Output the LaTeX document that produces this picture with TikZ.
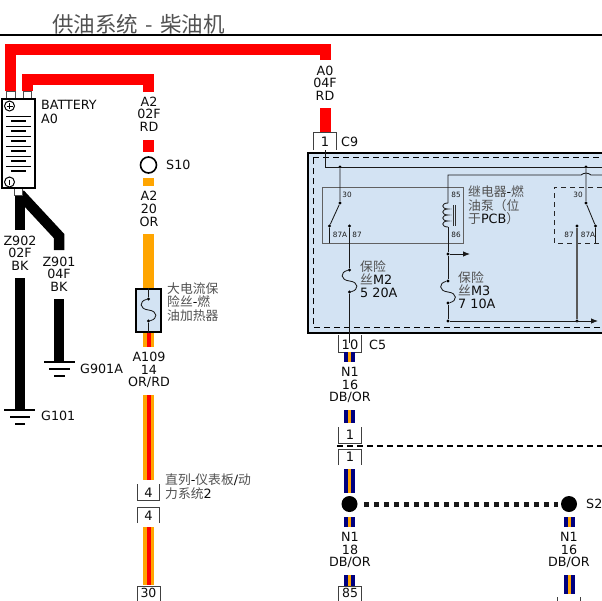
\documentclass[tikz,border=0pt]{standalone}
\usepackage{fontspec}
\usetikzlibrary{arrows.meta}
\setmainfont{DejaVu Sans}
\newfontfamily\cjkraw{Noto Sans CJK SC}
\newcommand{\cj}[1]{{\cjkraw\color{black!68}#1}}
\definecolor{wred}{HTML}{FF0000}
\definecolor{wor}{HTML}{FFA500}
\definecolor{wnavy}{HTML}{00007F}
\definecolor{modfill}{HTML}{D3E3F3}
\tikzset{
  redwire/.style={draw=wred,line width=11pt,line cap=butt,miter limit=10},
  orwire/.style={draw=wor,line width=11pt,line cap=butt},
  bkwire/.style={draw=black,line width=10.5pt,line cap=butt,miter limit=10},
  orrdwire/.style={draw=wor,double=wred,line width=3.5pt,double distance=4pt,line cap=butt},
  dbwire/.style={draw=wnavy,double=wor,line width=4pt,double distance=3pt,line cap=butt},
  lab/.style={font=\fontsize{12.7}{12.7}\selectfont,align=center,inner sep=0pt,text=black!95},
  side/.style={font=\fontsize{12.7}{13.4}\selectfont,align=left,anchor=west,inner sep=0pt,text=black!95},
  sidecj/.style={side,font=\fontsize{12.8}{13.3}\selectfont},
  pinnum/.style={font=\fontsize{13}{13}\selectfont,inner sep=0pt,text=black!95},
  tiny/.style={font=\fontsize{7.3}{8}\selectfont,inner sep=0pt,text=black!90},
  pin/.style={draw=black!75,line width=0.9pt},
  thin wire/.style={draw=black!90,line width=0.85pt},
  gnd/.style={draw=black,line width=1.5pt},
  jdot/.style={circle,fill=black,inner sep=0pt,minimum size=3.4pt},
  bigdot/.style={circle,fill=black,inner sep=0pt,minimum size=16pt},
  stub/.style={draw=black!70,fill=white,line width=0.8pt},
}
\begin{document}
\begin{tikzpicture}[x=1pt,y=-1pt]
\useasboundingbox (0,0) rectangle (602,600);
\clip (0,0) rectangle (602,600);
\fill[white] (0,0) rectangle (602,600);
% title
\node[inner sep=0pt,anchor=west,font=\fontsize{21.5}{24}\selectfont] (title) at (52,24) {\cj{供油系统\hspace{0.12em} - \hspace{0.12em}柴油机}};
\coordinate (ruleL) at (0,35); \coordinate (ruleR) at (602,35);
\draw[black,line width=1.5pt] (ruleL) -- (ruleR);

% ground wires (under the battery stub)
\coordinate (gs) at (20,194);
\node[lab] (z902) at (20,253) {Z902\\02F\\BK};
\node[lab] (z901) at (59,274) {Z901\\04F\\BK};
\coordinate (z902a) at (20,230); \coordinate (z902b) at (20,278); \coordinate (g101) at (20,410);
\coordinate (z901a) at (59,250); \coordinate (z901b) at (59,299); \coordinate (g901) at (59,362);
\draw[bkwire] (gs) -- (z902a);
\draw[bkwire] (gs) -- (59,236) -- (z901a);
\draw[bkwire] (z902b) -- (g101);
\draw[bkwire] (z901b) -- (g901);
\draw[gnd] (4,410) -- (35,410) (10,417) -- (30,417) (15,424) -- (25,424);
\draw[gnd] (44,362) -- (75,362) (49,369) -- (70,369) (54,376) -- (65,376);
\node[side] (g101lab) at (41,416) {G101};
\node[side] (g901lab) at (80,369) {G901A};

% battery
\coordinate (batP) at (10.5,91); \coordinate (batQ) at (27,91);
\coordinate (a0top) at (325,60); \coordinate (a2top) at (148.5,92);
\draw[redwire] (batP) -- (10.5,49) -- (325,49) -- (a0top);
\draw[redwire] (batQ) -- (27,79) -- (148.5,79) -- (a2top);
\draw[stub] (6,98) rectangle (15,91);
\draw[stub] (23,98) rectangle (31,91);
\draw[stub] (14,188) rectangle (22,195);
\node[draw=black,line width=1.5pt,fill=white,minimum width=33pt,minimum height=89pt,inner sep=0pt] (battery) at (18.5,143.5) {};
\foreach \y in {116,126,136,146,156,166}{\draw[black,line width=0.8pt] (6,\y) -- (31,\y);}
\foreach \y in {121,131,141,151,161,171}{\draw[black,line width=2.4pt] (11,\y) -- (26,\y);}
\node[circle,draw=black,line width=1pt,minimum size=10pt,inner sep=0pt] (batplus) at (9.5,106) {};
\draw[black,line width=0.7pt] (6.5,106) -- (12.5,106) (9.5,103) -- (9.5,109);
\node[circle,draw=black,line width=1pt,minimum size=10pt,inner sep=0pt] (batminus) at (9.5,182) {};
\draw[black,line width=1pt] (9.5,179.5) -- (9.5,184.5);
\node[side] (batlab) at (41,112) {BATTERY\\A0};

% centre column
\node[lab] (a2a) at (149,114) {A2\\02F\\RD};
\coordinate (a2b) at (148.5,140); \coordinate (a2c) at (148.5,152);
\draw[redwire] (a2b) -- (a2c);
\node[circle,draw=black,line width=1.6pt,fill=white,minimum size=16pt,inner sep=0pt] (s10) at (148.5,165) {};
\node[side] (s10lab) at (166,165) {S10};
\coordinate (o1) at (148.5,178); \coordinate (o2) at (148.5,186);
\draw[orwire] (o1) -- (o2);
\node[lab] (a2d) at (149,209) {A2\\20\\OR};
\coordinate (o3) at (148.5,234);
\node[draw=black,line width=1.5pt,fill=modfill,minimum width=25pt,minimum height=43pt,inner sep=0pt] (hfuse) at (148.5,310.5) {};
\draw[orwire] (o3) -- (hfuse.north);
\draw[orrdwire] (hfuse.south) -- (148.5,347);
\node[jdot] (hf1) at (148.5,299) {};
\node[jdot] (hf2) at (148.5,321) {};
\draw[thin wire] (hfuse.north) -- (hf1);
\draw[thin wire] (hf2) -- (hfuse.south);
\draw[thin wire] (hf1) .. controls (139,301) and (139,309) .. (148.5,310) .. controls (158,311) and (158,319) .. (hf2);
\node[sidecj] (hflab) at (167,302) {\cj{大电流保}\\\cj{险丝}-\cj{燃}\\\cj{油加热器}};
\node[lab] (a109) at (149,370) {A109\\14\\OR/RD};
\coordinate (p4a) at (148.5,395); \coordinate (p4b) at (148.5,480);
\draw[orrdwire] (p4a) -- (p4b);
\draw[pin] (137,484) -- (137,500) -- (159,500) -- (159,484);
\node[pinnum] (p4top) at (148.5,493) {4};
\draw[pin] (137,523) -- (137,507) -- (159,507) -- (159,523);
\node[pinnum] (p4bot) at (148.5,515.5) {4};
\node[sidecj] (p4lab) at (165,486.5) {\cj{直列}-\cj{仪表板}/\cj{动}\\\cj{力系统}2};
\coordinate (p4c) at (148.5,527); \coordinate (p4d) at (148.5,585);
\draw[orrdwire] (p4c) -- (p4d);
\draw[pin] (137,601) -- (137,586) -- (160,586) -- (160,601);
\node[pinnum,font=\fontsize{12.5}{13}\selectfont] (p30) at (148.5,592.5) {30};

% A0 to module
\node[lab] (a0lab) at (325,83) {A0\\04F\\RD};
\coordinate (c9a) at (325,108); \coordinate (c9b) at (325,132);
\draw[redwire] (c9a) -- (c9b);
\draw[pin] (313,150) -- (313,132) -- (336,132) -- (336,150);
\node[pinnum] (c9num) at (325,141.5) {1};
\node[side] (c9lab) at (341,141.5) {C9};

% module
\draw[draw=black,line width=2pt,fill=modfill] (308,153) rectangle (630,333);
\draw[black,line width=0.9pt,dash pattern=on 6pt off 4pt] (313,157.5) -- (610,157.5) (610,327) -- (313,327) -- (313,157.5);
% relay outlines
\draw[draw=black!62,line width=1pt] (322,187) rectangle (463,243);
\draw[black!85,line width=0.9pt,dash pattern=on 5pt off 4pt] (620,187) -- (554,187) -- (554,243) -- (620,243);
% feed
\coordinate (feed0) at (325,150); \coordinate (feed1) at (325,167); \coordinate (feedR) at (610,167);
\node[jdot] (j30a) at (340,167) {};
\node[jdot] (j30b) at (586,167) {};
\draw[thin wire] (feed0) -- (feed1) -- (feedR);
% relay 1
\node[jdot] (r1c) at (340,203) {};
\node[jdot] (r1n) at (329.5,226) {};
\node[jdot] (r1o) at (349.5,226) {};
\draw[thin wire] (j30a) -- (r1c) -- (r1n) -- (329.5,243);
\node[tiny] (t30a) at (347,195) {30};
\node[tiny] (t87aa) at (340,235) {87A};
\node[tiny] (t87a) at (357,235) {87};
\node[tiny] (t85) at (456,195) {85};
\node[tiny] (t86) at (456,235) {86};
\node[sidecj,font=\fontsize{12.8}{13.5}\selectfont] (r1lab) at (468,205.5) {\cj{继电器}-\cj{燃}\\\cj{油泵（位}\\\cj{于}PCB\cj{）}};
% fuse M2
\node[jdot] (m2a) at (349.5,270) {};
\node[jdot] (m2b) at (349.5,292) {};
\coordinate (c5t) at (349.5,352);
\draw[thin wire] (r1o) -- (m2a);
\draw[thin wire] (m2a) .. controls (340,272) and (340,280) .. (349.5,281) .. controls (359,282) and (359,290) .. (m2b);
\draw[thin wire] (m2b) -- (349.5,343);
\node[sidecj] (m2lab) at (360,279) {\cj{保险}\\\cj{丝}M2\\5 20A};
% coil line
\coordinate (c85) at (448,175); \coordinate (c85R) at (610,175);
\coordinate (cA) at (448,203); \coordinate (cB) at (448,227);
\node[jdot] (j254) at (448,254) {};
\node[jdot] (m3a) at (448,281) {};
\node[jdot] (m3b) at (448,303) {};
\node[jdot] (j321) at (448,321) {};
\draw[thin wire] (cA) -- (c85) -- (581,175) .. controls (584,172.5) and (588,172.5) .. (591,175) -- (c85R);
\draw[thin wire] (cA) .. controls (441,203) and (441,209) .. (448,209) .. controls (441,209) and (441,215) .. (448,215) .. controls (441,215) and (441,221) .. (448,221) .. controls (441,221) and (441,227) .. (cB);
\draw[black!80,line width=0.8pt] (453,205) -- (453,226) (455.5,205) -- (455.5,226);
\draw[thin wire] (cB) -- (j254) -- (m3a);
\coordinate (arr1) at (470,254);
\draw[thin wire,-{Latex[length=7pt,width=5.5pt]}] (j254) -- (arr1);
\draw[thin wire] (m3a) .. controls (438.5,283) and (438.5,291) .. (448,292) .. controls (457.5,293) and (457.5,301) .. (m3b);
\draw[thin wire] (m3b) -- (j321);
\node[sidecj] (m3lab) at (458,290) {\cj{保险}\\\cj{丝}M3\\7 10A};
\node[jdot] (j577) at (577,321) {};
\node[jdot] (r2o) at (577,226) {};
\coordinate (arr2) at (598,321);
\draw[thin wire,-{Latex[length=7pt,width=5.5pt]}] (j321) -- (arr2);
\draw[draw=black!65,line width=1.3pt] (j577) -- (r2o);
% relay 2
\node[jdot] (r2c) at (586,203) {};
\node[jdot] (r2n) at (595.5,226) {};
\draw[thin wire] (j30b) -- (r2c) -- (r2n) -- (595.5,243);
\node[tiny] (t30b) at (578,195) {30};
\node[tiny] (t87b) at (569,235) {87};
\node[tiny] (t87ab) at (588,235) {87A};

% C5 and N1 left
\draw[pin] (338,335) -- (338,352) -- (361,352) -- (361,335);
\node[pinnum] (c5num) at (350,345) {10};
\node[side] (c5lab) at (369,345) {C5};
\coordinate (n1a) at (349.5,352); \coordinate (n1b) at (349.5,362);
\draw[dbwire] (n1a) -- (n1b);
\node[lab] (n1l1) at (350,385) {N1\\16\\DB/OR};
\coordinate (n1c) at (349.5,410); \coordinate (n1d) at (349.5,423);
\draw[dbwire] (n1c) -- (n1d);
\draw[pin] (338,427) -- (338,443) -- (361,443) -- (361,427);
\node[pinnum] (p1a) at (350,435) {1};
\coordinate (dashL) at (337,446); \coordinate (dashR) at (602,446);
\draw[black,line width=1.2pt,dash pattern=on 6pt off 4pt] (dashL) -- (dashR);
\draw[pin] (338,465) -- (338,449) -- (361,449) -- (361,465);
\node[pinnum] (p1b) at (350,457) {1};
\node[bigdot] (jl) at (349.5,504) {};
\node[bigdot] (jr) at (569,504) {};
\node[side] (s2lab) at (586,504) {S2};
\draw[dbwire] (349.5,469) -- (349.5,493);
\draw[black!90,line width=5pt,dash pattern=on 5pt off 5pt] (jl.center) ++(14.5,0) -- (558,504);
\draw[dbwire] (349.5,517) -- (349.5,527);
\node[lab] (n1l2) at (350,550) {N1\\18\\DB/OR};
\draw[dbwire] (349.5,575) -- (349.5,586);
\draw[pin] (338,601) -- (338,586) -- (361,586) -- (361,601);
\node[pinnum,font=\fontsize{12.5}{13}\selectfont] (p85) at (350,592.5) {85};
\draw[dbwire] (569,517) -- (569,527);
\node[lab] (n1l3) at (569,550) {N1\\16\\DB/OR};
\draw[dbwire] (569,575) -- (569,594);
\draw[pin] (557,601) -- (557,597) (580,601) -- (580,597);
\end{tikzpicture}
\end{document}
